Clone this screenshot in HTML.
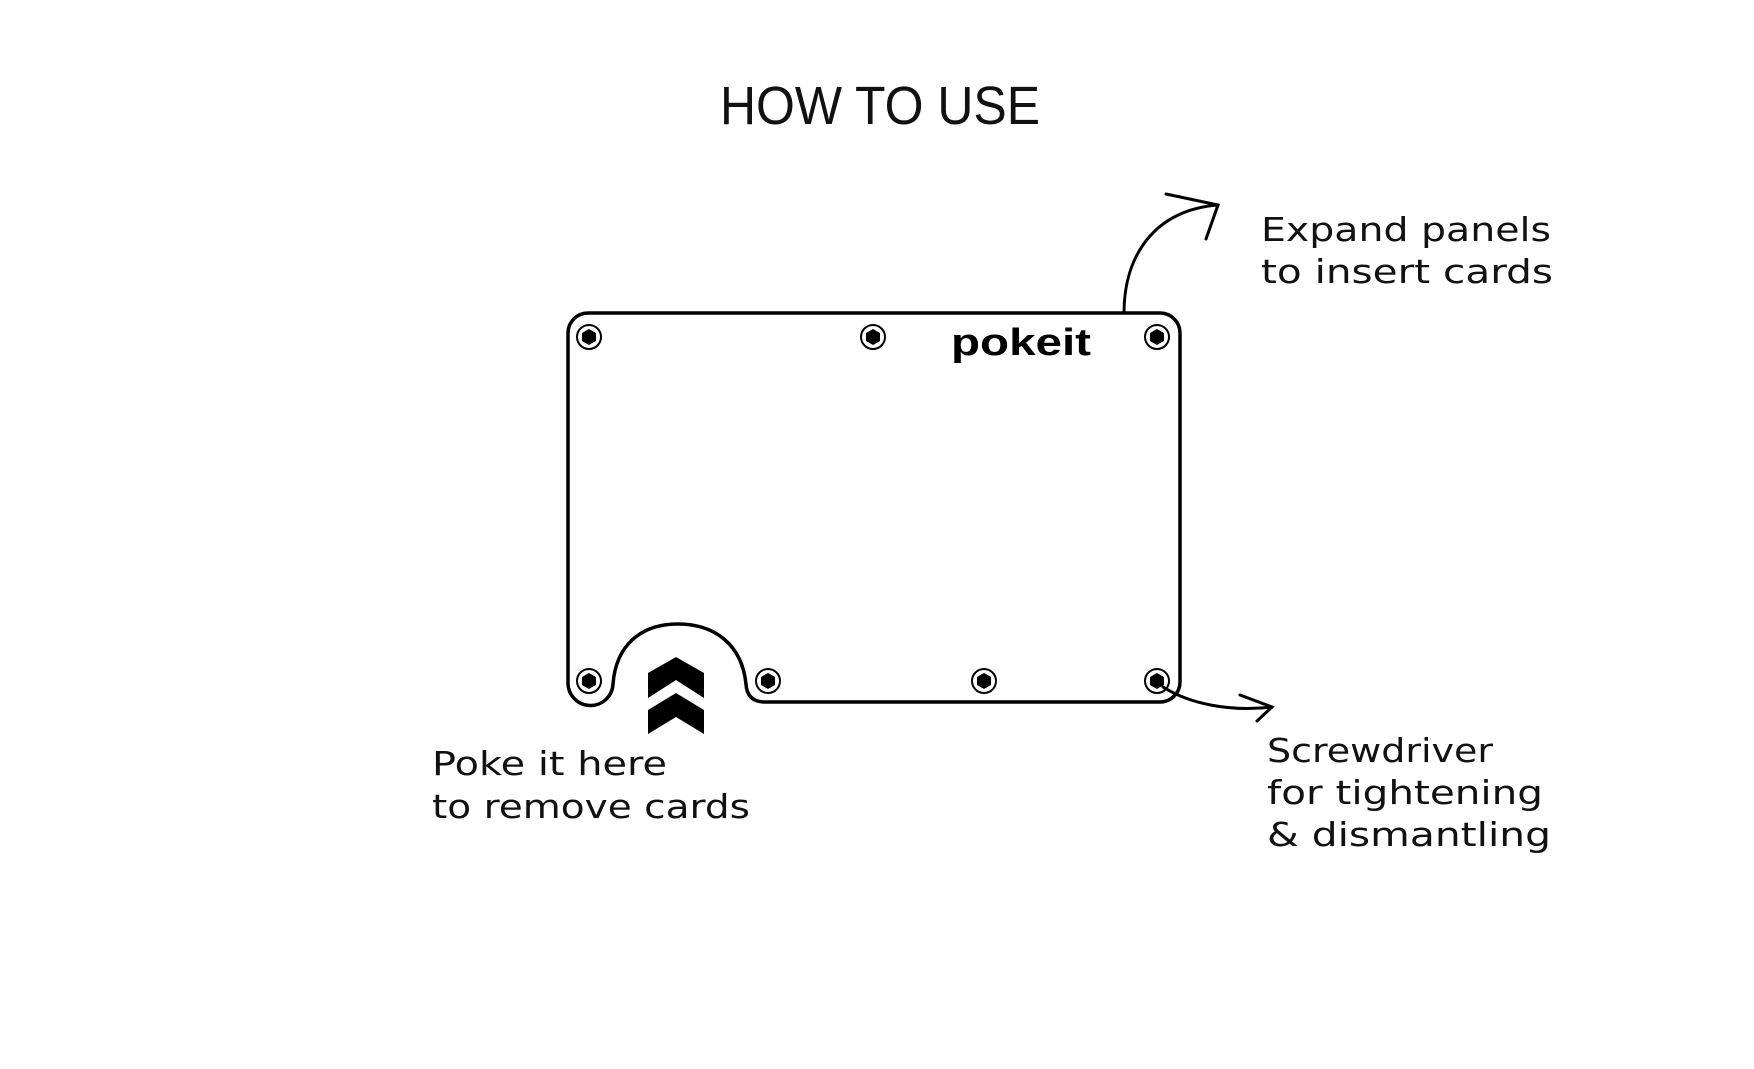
<!DOCTYPE html>
<html><head><meta charset="utf-8"><style>
html,body{margin:0;padding:0;background:#fff;}
svg{display:block;}
.n{font-family:"DejaVu Sans","Liberation Sans",sans-serif;font-size:33px;fill:#111;}
</style></head><body>
<svg width="1754" height="1069" viewBox="0 0 1754 1069" xmlns="http://www.w3.org/2000/svg">
<text x="720" y="124" font-family="Liberation Sans, sans-serif" font-size="54" textLength="320" lengthAdjust="spacingAndGlyphs" fill="#111">HOW TO USE</text>
<path d="M568,333 A20,20 0 0 1 588,313 H1160 A20,20 0 0 1 1180,333 V682 A20,20 0 0 1 1160,702 H765 Q747,702 746,684 C742,645 715,624 678,624 C641,624 616,645 613,684 A22.5,22.5 0 0 1 568,682 Z" fill="none" stroke="#000" stroke-width="3.5"/>
<g fill="none" stroke="#000" stroke-width="2">
<circle cx="589" cy="337" r="12"/><circle cx="873" cy="337" r="12"/><circle cx="1157" cy="337" r="12"/>
<circle cx="589" cy="681" r="12"/><circle cx="768" cy="681" r="12"/><circle cx="984" cy="681" r="12"/><circle cx="1157" cy="681" r="12"/>
</g>
<g fill="#000">
<polygon points="0,-8 7,-4 7,4 0,8 -7,4 -7,-4" transform="translate(589,337)"/>
<polygon points="0,-8 7,-4 7,4 0,8 -7,4 -7,-4" transform="translate(873,337)"/>
<polygon points="0,-8 7,-4 7,4 0,8 -7,4 -7,-4" transform="translate(1157,337)"/>
<polygon points="0,-8 7,-4 7,4 0,8 -7,4 -7,-4" transform="translate(589,681)"/>
<polygon points="0,-8 7,-4 7,4 0,8 -7,4 -7,-4" transform="translate(768,681)"/>
<polygon points="0,-8 7,-4 7,4 0,8 -7,4 -7,-4" transform="translate(984,681)"/>
<polygon points="0,-8 7,-4 7,4 0,8 -7,4 -7,-4" transform="translate(1157,681)"/>
<polygon points="648,673 676,657 704,673 704,698 676,680 648,698"/>
<polygon points="648,710 676,693 704,710 704,734 676,717 648,734"/>
</g>
<text x="951" y="355" font-family="Liberation Sans, sans-serif" font-weight="bold" font-size="38" textLength="140" lengthAdjust="spacingAndGlyphs" fill="#000">pokeit</text>
<g fill="none" stroke="#000" stroke-width="3" stroke-linecap="round">
<path d="M1124,313 C1124,255 1155,210 1218,205"/>
<path d="M1166,194 L1218,205 L1206,239"/>
<path d="M1163,687 C1190,704 1230,712 1272,707"/>
<path d="M1240,695 L1272,707 L1257,721"/>
</g>
<text class="n" x="1261" y="241" textLength="290" lengthAdjust="spacingAndGlyphs">Expand panels</text>
<text class="n" x="1261" y="283" textLength="292" lengthAdjust="spacingAndGlyphs">to insert cards</text>
<text class="n" x="432" y="775" textLength="235" lengthAdjust="spacingAndGlyphs">Poke it here</text>
<text class="n" x="432" y="818" textLength="318" lengthAdjust="spacingAndGlyphs">to remove cards</text>
<text class="n" x="1267" y="762" textLength="226" lengthAdjust="spacingAndGlyphs">Screwdriver</text>
<text class="n" x="1267" y="804" textLength="276" lengthAdjust="spacingAndGlyphs">for tightening</text>
<text class="n" x="1267" y="846" textLength="284" lengthAdjust="spacingAndGlyphs">&amp; dismantling</text>
</svg>
</body></html>
